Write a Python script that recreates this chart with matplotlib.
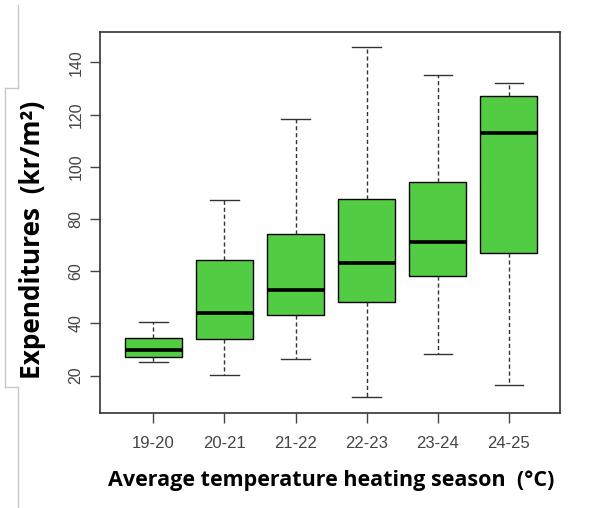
import matplotlib
matplotlib.use("Agg")
import matplotlib.pyplot as plt
from matplotlib.lines import Line2D

categories = ["19-20", "20-21", "21-22", "22-23", "23-24", "24-25"]
whisker_low = [25.2, 20.4, 26.5, 11.7, 28.3, 16.4]
q1 = [27.2, 34.0, 43.3, 48.2, 58.0, 66.9]
medians = [29.7, 44.0, 52.9, 63.1, 71.0, 112.8]
q3 = [34.6, 64.4, 74.3, 87.6, 94.1, 127.1]
whisker_high = [40.4, 87.1, 118.2, 146.0, 135.3, 132.2]
y_ticks = [20, 40, 60, 80, 100, 120, 140]

stats = []
for c, lo, a, m, b, hi in zip(categories, whisker_low, q1, medians, q3, whisker_high):
    stats.append(dict(label=c, whislo=lo, q1=a, med=m, q3=b, whishi=hi, fliers=[]))

fig = plt.figure(figsize=(5.89, 5.08), dpi=100)
ax = fig.add_axes([0.1698, 0.1876, 0.781, 0.7488])

positions = list(range(1, len(categories) + 1))
ax.bxp(stats, positions=positions, widths=0.8, patch_artist=True, showfliers=False,
       boxprops=dict(facecolor="#52CC42", edgecolor="black", linewidth=1.0),
       medianprops=dict(color="black", linewidth=2.6),
       whiskerprops=dict(color="#333333", linestyle=(0, (3, 2)), linewidth=1.0),
       capprops=dict(color="#333333", linewidth=1.0),
       capwidths=0.4)

ax.set_xlim(0.25, 6.72)
ax.set_ylim(5.8, 151.5)
ax.set_yticks(y_ticks)
ax.set_yticklabels([str(t) for t in y_ticks], rotation=90, va="center",
                   fontsize=11.5, color="#444444", family="Liberation Sans")
ax.set_xticks(positions)
ax.set_xticklabels(categories, fontsize=12, color="#444444", family="Liberation Sans")
ax.tick_params(axis="both", length=7, width=1, color="#444444")
ax.tick_params(axis="x", pad=10)
ax.tick_params(axis="y", pad=5)
for s in ax.spines.values():
    s.set_color("#333333")
    s.set_linewidth(1.2)

fig.text(0.563, 0.054, "Average temperature heating season  (\u00b0C)",
         ha="center", va="center", fontsize=15.5, fontweight="bold",
         family="Open Sans", color="black")
fig.text(0.056, 0.527, "Expenditures  (kr/m\u00b2)", ha="center", va="center",
         rotation=90, fontsize=18.9, fontweight="bold", family="Open Sans", color="black")

# light page-edge lines from the source
lc = "#c8c8c8"
fig.add_artist(Line2D([18/589, 18/589], [1 - 5/508, 1 - 88/508], transform=fig.transFigure, color=lc, lw=1))
fig.add_artist(Line2D([5/589, 18/589], [1 - 88/508, 1 - 88/508], transform=fig.transFigure, color=lc, lw=1))
fig.add_artist(Line2D([5/589, 5/589], [1 - 88/508, 1 - 387/508], transform=fig.transFigure, color=lc, lw=1))
fig.add_artist(Line2D([5/589, 18/589], [1 - 387/508, 1 - 387/508], transform=fig.transFigure, color=lc, lw=1))
fig.add_artist(Line2D([18/589, 18/589], [1 - 387/508, 0], transform=fig.transFigure, color=lc, lw=1))

fig.savefig("out.png", dpi=100)
